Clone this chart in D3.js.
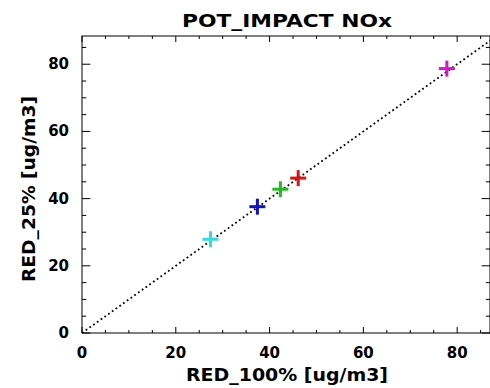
<!DOCTYPE html>
<html>
<head>
<meta charset="utf-8">
<script src="https://cdn.jsdelivr.net/npm/d3@7"></script>
<style>
  body { margin: 0; background: #fff; }
  text { font-family: "DejaVu Sans", sans-serif; font-weight: bold; fill: #000; }
</style>
</head>
<body>
<div id="chart"></div>
<script>
// scenario points
const scenarioColors = ["#33dddd", "#1010cc", "#22bb22", "#dd1111", "#dd11cc"];
const red100 = [27.4, 37.4, 42.3, 46.1, 77.8];
const red25 = [27.9, 37.6, 42.8, 46.1, 78.7];
const majorTicks = [0, 20, 40, 60, 80];
const minorTicks = d3.range(0, 90, 5);

const margin = { top: 36, right: 0, bottom: 55, left: 82 },
      width = 490 - margin.left - margin.right,
      height = 388 - margin.top - margin.bottom;

const svg = d3.select("#chart")
  .append("svg")
    .attr("width", 490)
    .attr("height", 388);

const g = svg.append("g")
    .attr("transform", `translate(${margin.left},${margin.top})`);

// axes scales
const x = d3.scaleLinear().domain([0, 87]).range([0, width]);
const y = d3.scaleLinear().domain([0, 88.4]).range([height, 0]);

g.append("clipPath").attr("id", "clip")
  .append("rect").attr("width", width).attr("height", height);

// 1:1 line
g.append("line")
    .attr("clip-path", "url(#clip)")
    .attr("x1", x(0)).attr("y1", y(0))
    .attr("x2", x(100)).attr("y2", y(100))
    .attr("stroke", "#000")
    .attr("stroke-width", 1.8)
    .attr("stroke-dasharray", "1.8,2.8");

// box
g.append("rect")
    .attr("width", width).attr("height", height)
    .attr("fill", "none").attr("stroke", "#000").attr("stroke-width", 1);

// ticks on all four sides
function drawTicks(vals, len) {
  const t = g.append("g").attr("stroke", "#000");
  t.selectAll(null).data(vals).join("line")
    .attr("x1", d => x(d)).attr("x2", d => x(d))
    .attr("y1", height).attr("y2", height - len);
  t.selectAll(null).data(vals).join("line")
    .attr("x1", d => x(d)).attr("x2", d => x(d))
    .attr("y1", 0).attr("y2", len);
  t.selectAll(null).data(vals).join("line")
    .attr("y1", d => y(d)).attr("y2", d => y(d))
    .attr("x1", 0).attr("x2", len * 1.4);
  t.selectAll(null).data(vals).join("line")
    .attr("y1", d => y(d)).attr("y2", d => y(d))
    .attr("x1", width).attr("x2", width - len * 1.4);
}
drawTicks(minorTicks.filter(d => d % 20 != 0), 3);
drawTicks(majorTicks, 6);

// tick labels
g.append("g").selectAll("text").data(majorTicks).join("text")
    .attr("x", d => x(d)).attr("y", height + 25)
    .attr("text-anchor", "middle")
    .style("font-size", "15px")
    .text(d => d);
g.append("g").selectAll("text").data(majorTicks).join("text")
    .attr("x", -13).attr("y", d => y(d) + 5)
    .attr("text-anchor", "end")
    .style("font-size", "15px")
    .text(d => d);

// points as plus signs
const pts = red100.map((v, i) => ({ x: v, y: red25[i], c: scenarioColors[i] }));
const marks = g.append("g").selectAll("g").data(pts).join("g")
    .attr("transform", d => `translate(${x(d.x)},${y(d.y)})`);
marks.append("line").attr("x1", -8).attr("x2", 8)
    .attr("stroke", d => d.c).attr("stroke-width", 3);
marks.append("line").attr("y1", -8).attr("y2", 8)
    .attr("stroke", d => d.c).attr("stroke-width", 3);

// titles
svg.append("text")
    .attr("x", 287).attr("y", 27)
    .attr("text-anchor", "middle")
    .attr("textLength", 210).attr("lengthAdjust", "spacingAndGlyphs")
    .style("font-size", "17px")
    .text("POT_IMPACT NOx");
svg.append("text")
    .attr("x", 287).attr("y", 381)
    .attr("text-anchor", "middle")
    .attr("textLength", 202).attr("lengthAdjust", "spacingAndGlyphs")
    .style("font-size", "17px")
    .text("RED_100% [ug/m3]");
svg.append("text")
    .attr("transform", "translate(35,189) rotate(-90)")
    .attr("text-anchor", "middle")
    .attr("textLength", 186).attr("lengthAdjust", "spacingAndGlyphs")
    .style("font-size", "17px")
    .text("RED_25% [ug/m3]");
</script>
</body>
</html>
